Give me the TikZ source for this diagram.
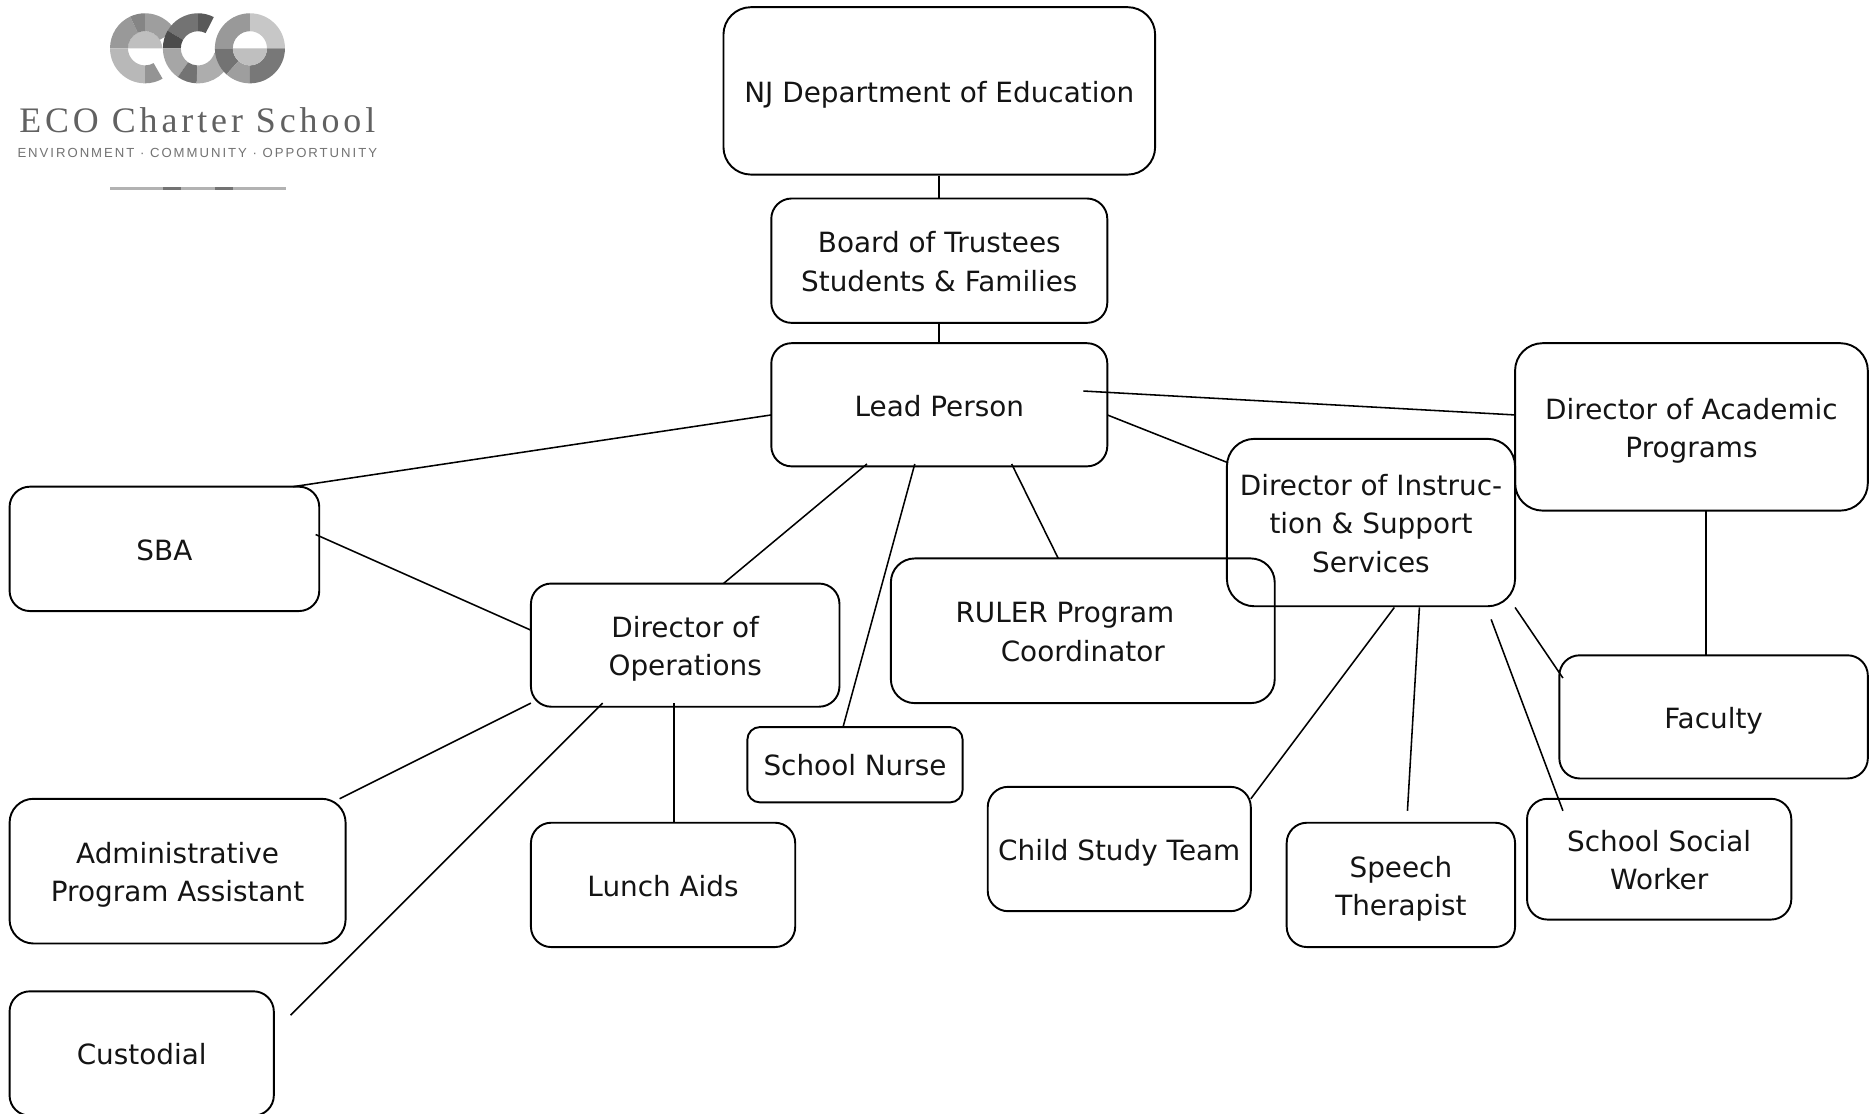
\documentclass[tikz,border=0pt]{standalone}
\usepackage{fontspec}
\setmainfont{DejaVu Sans}
\newfontfamily\logoserif[LetterSpace=11]{Liberation Serif}
\newfontfamily\logosans[LetterSpace=15]{Liberation Sans}
\usetikzlibrary{calc}
\newcommand{\seg}[5]{% cx cy a1 a2 grey; angles counted anticlockwise on the page
  \fill[black!#5!white] ($(#1,#2)+(-#3:29.3)$) arc[start angle=-#3,end angle=-#4,radius=29.3] -- ($(#1,#2)+(-#4:14.3)$) arc[start angle=-#4,end angle=-#3,radius=14.3] -- cycle;}
\tikzset{
  box/.style={draw=black,line width=1.6pt,rounded corners=#1,align=center,font=\fontsize{23.3}{32}\selectfont,inner sep=0pt,text=black!92},
  box/.default=17pt,
  link/.style={draw=black,line width=1.3pt},
  uprightlink/.style={draw=black,line width=1.7pt}
}
\def\mk#1#2#3#4#5#6#7{\node[box=#7,minimum width=#4-#2,minimum height=#5-#3] (#1) at ({(#2+#4)/2},{(#3+#5)/2}) {\raisebox{-3pt}[\height][\depth]{\begin{tabular}{@{}c@{}}#6\end{tabular}}};}
\begin{document}
\begin{tikzpicture}[x=1pt,y=-1pt]
\useasboundingbox (0,0) rectangle (1568,930.8);
\fill[white] (0,0) rectangle (1568,930.8);
% ---- logo
\fill[black!25] (107,40.4) arc[start angle=180,end angle=360,radius=14.3] -- cycle;
\seg{121.3}{40.4}{180}{115}{40}
\seg{121.3}{40.4}{115}{90}{48}
\seg{121.3}{40.4}{90}{30}{38}
\seg{121.3}{40.4}{270}{180}{28}
\seg{121.3}{40.4}{300}{270}{42}
\seg{165.5}{40.4}{90}{63}{65}
\seg{165.5}{40.4}{150}{90}{55}
\seg{165.5}{40.4}{180}{150}{70}
\seg{165.5}{40.4}{235}{180}{35}
\seg{165.5}{40.4}{268}{235}{55}
\seg{165.5}{40.4}{345}{268}{32}
\seg{209}{40.4}{90}{0}{22}
\seg{209}{40.4}{180}{90}{40}
\seg{209}{40.4}{228}{180}{55}
\seg{209}{40.4}{270}{228}{38}
\seg{209}{40.4}{360}{270}{53}
\fill[black!25] (194.7,40.4) arc[start angle=180,end angle=0,radius=14.3] -- cycle;
\node[inner sep=0pt,text=black!62,anchor=base] (logoname) at (165,111) {\logoserif\fontsize{30}{30}\selectfont ECO Charter School};
\node[inner sep=0pt,text=black!55,anchor=base] (logotag) at (165,132) {\logosans\fontsize{11}{11}\selectfont ENVIRONMENT · COMMUNITY · OPPORTUNITY};
\fill[black!30] (92,156) rectangle (239,158.5);
\fill[black!55] (136,156) rectangle (151,158.5);
\fill[black!55] (180,156) rectangle (195,158.5);
% ---- boxes
\mk{nj}{605}{6}{966}{146}{NJ Department of Education}{23pt}
\mk{board}{645}{166}{926}{270}{Board of Trustees\\Students \& Families}{17pt}
\mk{lead}{645}{287}{926}{390}{Lead Person}{17pt}
\mk{sba}{8}{407}{267}{511}{SBA}{17pt}
\mk{ops}{444}{488}{702}{591}{Director of\\Operations}{17pt}
\mk{ruler}{745}{467}{1066}{588}{RULER Program\hspace*{30pt}\\Coordinator}{20pt}
\mk{instr}{1026}{367}{1267}{507}{Director of Instruc-\\tion \& Support\\Services}{23pt}
\mk{acad}{1267}{287}{1562}{427}{Director of Academic\\Programs}{23pt}
\mk{faculty}{1304}{548}{1562}{651}{Faculty}{17pt}
\mk{nurse}{625}{608}{805}{671}{School Nurse}{10.5pt}
\mk{apa}{8}{668}{289}{789}{Administrative\\Program Assistant}{20pt}
\mk{lunch}{444}{688}{665}{792}{Lunch Aids}{17pt}
\mk{cust}{8}{829}{229}{933}{Custodial}{17pt}
\mk{cst}{826}{658}{1046}{762}{Child Study Team}{17pt}
\mk{speech}{1076}{688}{1267}{792}{Speech\\Therapist}{17pt}
\mk{ssw}{1277}{668}{1498}{769}{School Social\\Worker}{17pt}
% ---- free ends of connectors
\coordinate (a1) at (645,347); \coordinate (a2) at (245,407);
\coordinate (b1) at (906,327); \coordinate (b2) at (1267,347);
\coordinate (c1) at (926,347); \coordinate (c2) at (1027,387);
\coordinate (d1) at (725,388); \coordinate (d2) at (605,488);
\coordinate (e1) at (765,388); \coordinate (e2) at (705,608);
\coordinate (f1) at (846,388); \coordinate (f2) at (885,467);
\coordinate (g1) at (264,447); \coordinate (g2) at (444,527);
\coordinate (h1) at (444,588); \coordinate (h2) at (284,668);
\coordinate (i1) at (564,588); \coordinate (i2) at (564,688);
\coordinate (j1) at (504,588); \coordinate (j2) at (243,849);
\coordinate (k1) at (1166,508); \coordinate (k2) at (1046,668);
\coordinate (l1) at (1187,508); \coordinate (l2) at (1177,678);
\coordinate (m1) at (1247,518); \coordinate (m2) at (1307,678);
\coordinate (n1) at (1267,508); \coordinate (n2) at (1307,567);
\coordinate (o1) at (1427,427); \coordinate (o2) at (1427,548);
\draw[uprightlink] (nj.south) -- (board.north);
\draw[uprightlink] (board.south) -- (lead.north);
\foreach \p in {i,o} \draw[uprightlink] (\p1) -- (\p2);
\foreach \p in {a,b,c,d,e,f,g,h,j,k,l,m,n} \draw[link] (\p1) -- (\p2);
\end{tikzpicture}
\end{document}
